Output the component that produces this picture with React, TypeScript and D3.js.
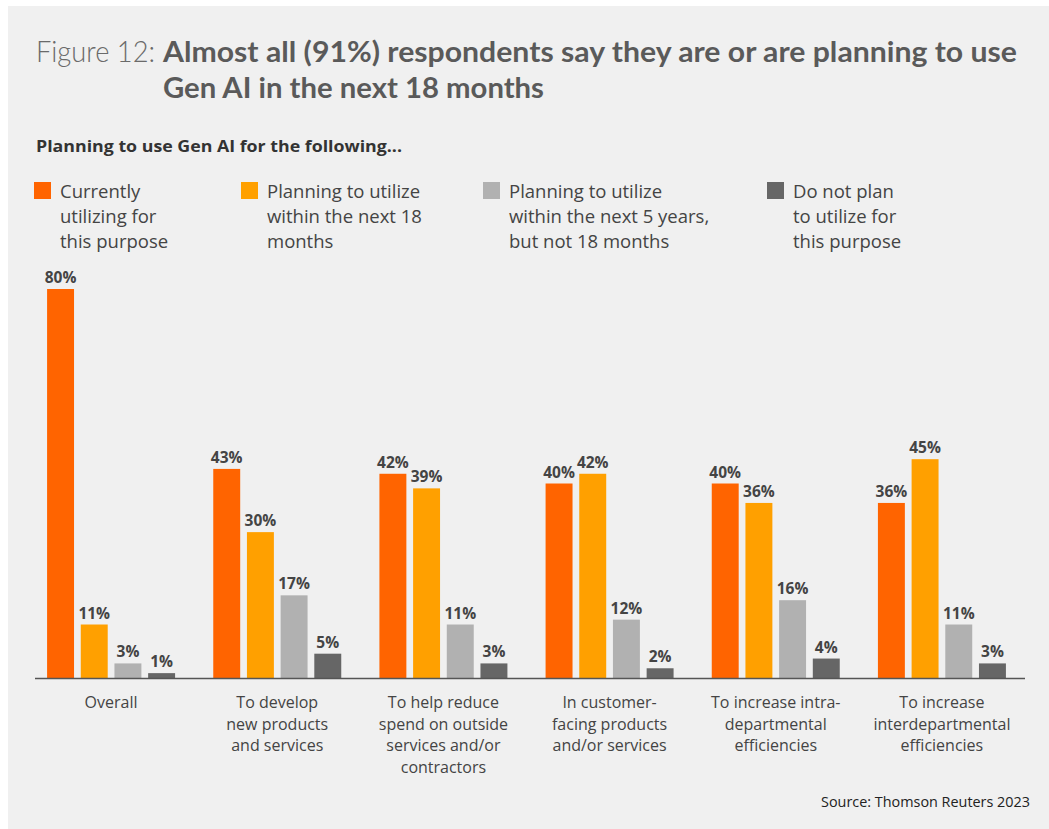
import React from "react";
import * as d3 from "d3";

const categories = [
  "Overall",
  "To develop new products and services",
  "To help reduce spend on outside services and/or contractors",
  "In customer-facing products and/or services",
  "To increase intra-departmental efficiencies",
  "To increase interdepartmental efficiencies",
];
const categoryLines = [
  ["Overall"],
  ["To develop", "new products", "and services"],
  ["To help reduce", "spend on outside", "services and/or", "contractors"],
  ["In customer-", "facing products", "and/or services"],
  ["To increase intra-", "departmental", "efficiencies"],
  ["To increase", "interdepartmental", "efficiencies"],
];
const seriesNames = ["current", "within18", "within5y", "notPlan"];
const currentlyUtilizing = [80, 43, 42, 40, 40, 36];
const planning18Months = [11, 30, 39, 42, 36, 45];
const planning5Years = [3, 17, 11, 12, 16, 11];
const doNotPlan = [1, 5, 3, 2, 4, 3];
const seriesValues = [currentlyUtilizing, planning18Months, planning5Years, doNotPlan];
const colors = ["#FF6400", "#FFA000", "#B1B1B1", "#666666"];
const legendLines = [
  ["Currently", "utilizing for", "this purpose"],
  ["Planning to utilize", "within the next 18", "months"],
  ["Planning to utilize", "within the next 5 years,", "but not 18 months"],
  ["Do not plan", "to utilize for", "this purpose"],
];
const legendX = [34, 241, 483, 767];

const FONT = "'Open Sans', 'Noto Sans', sans-serif";
const TITLE_FONT = "Lato, 'Open Sans', sans-serif";

export default function App() {
  const W = 1049;
  const H = 829;
  const baseY = 678;
  const x0 = d3.scaleBand<string>().domain(categories).range([28, 1025]).padding(0);
  const groupW = 128;
  const x1 = d3.scaleBand<string>().domain(seriesNames).range([0, groupW]).paddingInner(0.2).paddingOuter(0);
  const y = d3.scaleLinear().domain([0, 80]).range([baseY, 289]);

  return (
    <svg width={W} height={H} style={{ display: "block", position: "absolute", left: 0, top: 0 }}>
      <rect x={0} y={0} width={W} height={H} fill="#ffffff" />
      <rect x={8} y={6} width={W - 8} height={H - 6} fill="#F0F0F0" />
      <text x={36} y={62} fontFamily={TITLE_FONT} fontSize={29} fontWeight={300} fill="#6a6a6a" textLength={119} lengthAdjust="spacingAndGlyphs">
        Figure 12:
      </text>
      <text x={163} y={62} fontFamily={TITLE_FONT} fontSize={29} fontWeight={700} fill="#5a5a5a" textLength={854} lengthAdjust="spacingAndGlyphs">
        Almost all (91%) respondents say they are or are planning to use
      </text>
      <text x={163} y={98} fontFamily={TITLE_FONT} fontSize={29} fontWeight={700} fill="#5a5a5a" textLength={381} lengthAdjust="spacingAndGlyphs">
        Gen AI in the next 18 months
      </text>
      <text x={36} y={152} fontFamily={FONT} fontSize={16} fontWeight={700} fill="#333" textLength={366} lengthAdjust="spacingAndGlyphs">
        Planning to use Gen AI for the following...
      </text>

      {legendLines.map((lines, i) => (
        <g key={i}>
          <rect x={legendX[i]} y={182} width={17} height={17} fill={colors[i]} />
          {lines.map((l, j) => (
            <text key={j} x={legendX[i] + 26} y={198 + j * 25} fontFamily={FONT} fontSize={18.5} fill="#444">
              {l}
            </text>
          ))}
        </g>
      ))}

      {categories.map((c, ci) => {
        const cx = (x0(c) as number) + x0.bandwidth() / 2;
        const gx = cx - groupW / 2;
        return (
          <g key={c}>
            {seriesNames.map((s, si) => {
              const v = seriesValues[si][ci];
              const bx = gx + (x1(s) as number);
              return (
                <g key={s}>
                  <rect x={bx} y={y(v)} width={x1.bandwidth()} height={baseY - y(v)} fill={colors[si]} />
                  <text x={bx + x1.bandwidth() / 2} y={y(v) - 6} textAnchor="middle" fontFamily={FONT} fontSize={15.5} fontWeight={700} fill="#444">
                    {v}%
                  </text>
                </g>
              );
            })}
            {categoryLines[ci].map((l, li) => (
              <text key={li} x={cx} y={708 + li * 21.5} textAnchor="middle" fontFamily={FONT} fontSize={16} fill="#444">
                {l}
              </text>
            ))}
          </g>
        );
      })}
      <line x1={35} x2={1025} y1={baseY + 0.5} y2={baseY + 0.5} stroke="#555" strokeWidth={1.5} />
      <text x={1030} y={807} textAnchor="end" fontFamily={FONT} fontSize={14.4} fill="#222">
        Source: Thomson Reuters 2023
      </text>
    </svg>
  );
}
